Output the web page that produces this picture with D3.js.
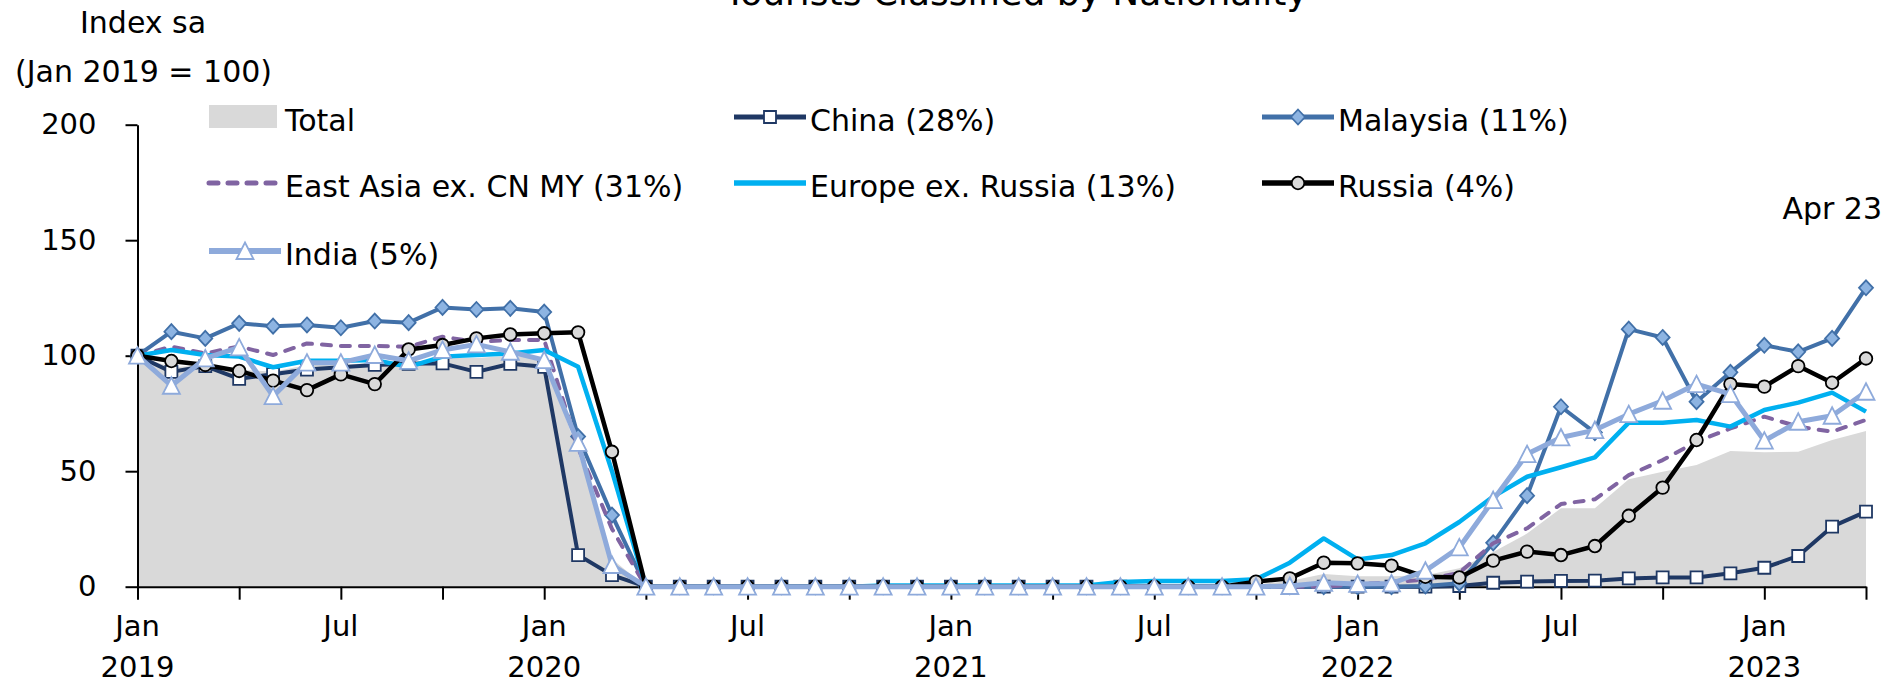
<!DOCTYPE html>
<html>
<head>
<meta charset="utf-8">
<script src="https://cdn.jsdelivr.net/npm/d3@7"></script>
<style>
  body { margin: 0; background: #fff; }
  svg { display: block; font-family: "DejaVu Sans", sans-serif; }
</style>
</head>
<body>
<div id="chart"></div>
<script>
// monthly, Jan 2019 .. Apr 2023
const months = d3.timeMonth.range(new Date(2019, 0, 1), new Date(2023, 4, 1));

const total = [100, 95, 96, 94, 93, 96, 96, 97, 97, 99, 99, 100, 99, 58, 12, 0,
  0.3, 0.3, 0.3, 0.3, 0.3, 0.3, 0.3, 0.3, 0.3, 0.3, 0.3, 0.3, 0.3, 0.3, 0.3, 0.3, 0.3,
  1, 2.5, 5.5, 4.5, 4.5, 5, 8, 15, 23, 34, 34, 46.5, 49.8, 52.7, 58.7, 58.2, 58.4, 63.5, 67.4];
const china = [100, 93, 95.5, 90, 92, 94, 95, 96, 96.5, 96.7, 93, 96.5, 95.2, 13.7, 5,
  0, 0, 0, 0, 0, 0, 0, 0, 0, 0, 0, 0, 0, 0, 0, 0, 0, 0, 0, 0, 0, 0, 0,
  0, 0.3, 1.7, 2.2, 2.5, 2.6, 3.6, 4, 4, 5.8, 8.2, 13.3, 26, 32.5];
const malaysia = [100, 110.4, 107.5, 114, 112.8, 113.3, 112.1, 115, 114.3, 120.9, 120, 120.5, 118.9, 65, 31, 0,
  0, 0, 0, 0, 0, 0, 0, 0, 0, 0, 0, 0, 0, 0, 0, 0, 0, 0, 0, 0, 0, 0,
  0.3, 1.5, 19, 39.4, 77.9, 66.7, 111.5, 107.9, 80.1, 92.8, 104.5, 101.7, 107.5, 129.4];
const eastAsia = [100, 103.9, 101, 104, 100.3, 105.3, 104.2, 104.2, 103.9, 108.2, 106, 106.8, 106.8, 60, 25, 0,
  0, 0, 0, 0, 0, 0, 0, 0, 0, 0, 0, 0, 0, 0, 0, 0, 0, 0, 0, 0,
  1, 2, 3, 6, 18.8, 25.3, 35.8, 37.8, 48.3, 54.8, 62.8, 68.5, 73.6, 69.3, 67.1, 72.2];
const europe = [100, 102.5, 100.3, 99.6, 95, 97.8, 97.8, 98.1, 95.2, 99.6, 100.3, 101, 102.5, 95.2, 50, 0,
  0, 0, 0, 0, 0, 0,
  0.5, 0.5, 0.5, 0.5, 0.5, 0.5, 0.5,
  2, 2.5, 2.5, 2.5, 3.2, 10.4, 20.9, 11.8, 13.7, 18.8, 28, 39, 47.6, 51.7, 56, 71, 71, 72.2, 69.3, 76.5, 79.7, 84, 75.8];
const russia = [100, 97.7, 96, 93.4, 89.2, 85.1, 91.9, 87.7, 102.7, 104.6, 107.5, 109.2, 109.7, 110.1, 58.4, 0,
  0, 0, 0, 0, 0, 0, 0, 0, 0, 0, 0, 0, 0, 0, 0, 0, 0,
  2.2, 3.6, 10.4, 10.1, 9.1, 4.3, 4, 11.3, 15.2, 13.7, 17.6, 30.7, 42.9, 63.5, 87.7, 86.6, 95.5, 88.3, 98.8];
const india = [100, 87, 98.8, 103.6, 82.5, 97, 97, 100.3, 97.8, 102.5, 104.9, 101.7, 98.1, 62.3, 9.4, 0,
  0, 0, 0, 0, 0, 0, 0, 0, 0, 0, 0, 0, 0, 0, 0, 0, 0, 0,
  0.3, 1.7, 1.2, 1.4, 6.9, 17, 37.5, 57.4, 64.6, 67.8, 74.7, 80.5, 87.7, 83.4, 63.2, 71.4, 74, 84.4];

const yTicks = [0, 50, 100, 150, 200];

const width = 1893;
const height = 684;

const svg = d3.select("#chart").append("svg").attr("width", width).attr("height", height);

const x = d3.scalePoint().domain(months).range([137.5, 1866]);
const y = d3.scaleLinear().domain([0, 200]).range([586.7, 124.7]);

// marker shapes
const squarePath = "M-6,-6H6V6H-6Z";
const diamondPath = "M0,-7.5L7,0L0,7.5L-7,0Z";
const trianglePath = "M0,-8.5L8.5,8L-8.5,8Z";

// series table built from the arrays above, in drawing order
const series = [
  { name: "China (28%)", values: china, color: "#1f3864", width: 4, marker: squarePath, mFill: "#fff", mStroke: "#1f3864" },
  { name: "Malaysia (11%)", values: malaysia, color: "#4170a8", width: 4, marker: diamondPath, mFill: "#8db4e2", mStroke: "#4170a8" },
  { name: "East Asia ex. CN MY (31%)", values: eastAsia, color: "#8064a2", width: 4, dash: "9 10" },
  { name: "Europe ex. Russia (13%)", values: europe, color: "#00b0f0", width: 4.5 },
  { name: "Russia (4%)", values: russia, color: "#000", width: 4.5, marker: "circle", mFill: "#d9d9d9", mStroke: "#000" },
  { name: "India (5%)", values: india, color: "#8eaadb", width: 5, marker: trianglePath, mFill: "#fff", mStroke: "#8eaadb" }
];

// title (mostly cut off at the top, as in the source)
svg.append("text")
  .attr("x", 1016).attr("y", 5)
  .attr("text-anchor", "middle")
  .style("font-size", "36px")
  .text("Tourists Classified by Nationality");

// unit labels
svg.append("text").attr("x", 80).attr("y", 33).style("font-size", "30px").text("Index sa");
svg.append("text").attr("x", 15).attr("y", 82).style("font-size", "30px").text("(Jan 2019 = 100)");

// total area
const area = d3.area()
  .x((d, i) => x(months[i]))
  .y0(y(0))
  .y1((d) => y(d));
svg.append("path").attr("d", area(total)).attr("fill", "#d9d9d9");

// axes
const yAxis = svg.append("g")
  .attr("transform", "translate(137.5,0)")
  .call(d3.axisLeft(y).tickValues(yTicks).tickSize(12).tickSizeOuter(0).tickPadding(29));
yAxis.selectAll("text").style("font-size", "29px").style("font-family", "DejaVu Sans").attr("fill", "#000");

const xAxis = svg.append("g")
  .attr("transform", `translate(0,${y(0)})`)
  .call(d3.axisBottom(x)
    .tickValues(months.filter((d, i) => i % 3 === 0))
    .tickSize(13).tickSizeOuter(0).tickFormat(""));

[yAxis, xAxis].forEach((g) => {
  g.selectAll("path, line").attr("stroke", "#000").attr("stroke-width", 2);
});

const monthLabels = months.filter((d) => d.getMonth() === 0 || d.getMonth() === 6);
svg.append("g").selectAll("text").data(monthLabels).enter().append("text")
  .attr("x", (d) => x(d)).attr("y", 636)
  .attr("text-anchor", "middle")
  .style("font-size", "29px")
  .text(d3.timeFormat("%b"));
svg.append("g").selectAll("text").data(months.filter((d) => d.getMonth() === 0)).enter().append("text")
  .attr("x", (d) => x(d)).attr("y", 677)
  .attr("text-anchor", "middle")
  .style("font-size", "29px")
  .text(d3.timeFormat("%Y"));

// lines + markers
const line = d3.line()
  .x((d, i) => x(months[i]))
  .y((d) => y(d));

function drawMarker(sel, s) {
  if (s.marker === "circle") {
    sel.append("circle").attr("r", 6.3);
  } else {
    sel.append("path").attr("d", s.marker);
  }
  sel.selectAll("circle, path")
    .attr("fill", s.mFill).attr("stroke", s.mStroke).attr("stroke-width", 1.8);
}

series.forEach((s) => {
  const g = svg.append("g");
  g.append("path")
    .attr("d", line(s.values))
    .attr("fill", "none")
    .attr("stroke", s.color)
    .attr("stroke-width", s.width)
    .attr("stroke-linejoin", "round")
    .attr("stroke-linecap", s.dash ? "round" : "butt")
    .attr("stroke-dasharray", s.dash || null);
  if (s.marker) {
    g.selectAll("g.m").data(s.values).enter().append("g")
      .attr("class", "m")
      .attr("transform", (d, i) => `translate(${x(months[i])},${y(d)})`)
      .each(function () { drawMarker(d3.select(this), s); });
  }
});

// legend
const legendCols = [209, 734, 1262];
const legendRows = [117, 183, 251];
const legendItems = [{ name: "Total", isArea: true }].concat(series);
legendItems.forEach((s, k) => {
  const lx = legendCols[k % 3];
  const ly = legendRows[Math.floor(k / 3)];
  const g = svg.append("g").attr("transform", `translate(${lx},${ly})`);
  if (s.isArea) {
    g.append("rect").attr("x", 0).attr("y", -12).attr("width", 68).attr("height", 23).attr("fill", "#d9d9d9");
  } else {
    g.append("line").attr("x1", 0).attr("x2", 72).attr("y1", 0).attr("y2", 0)
      .attr("stroke", s.color).attr("stroke-width", s.width + 1)
      .attr("stroke-linecap", s.dash ? "round" : "butt")
      .attr("stroke-dasharray", s.dash || null);
    if (s.marker) {
      const m = g.append("g").attr("transform", "translate(36,0)");
      drawMarker(m, s);
    }
  }
  g.append("text").attr("x", 76).attr("y", 13.5).style("font-size", "30px").text(s.name);
});

// last-point note
svg.append("text").attr("x", 1882).attr("y", 219).attr("text-anchor", "end")
  .style("font-size", "30px").text("Apr 23");
</script>
</body>
</html>
